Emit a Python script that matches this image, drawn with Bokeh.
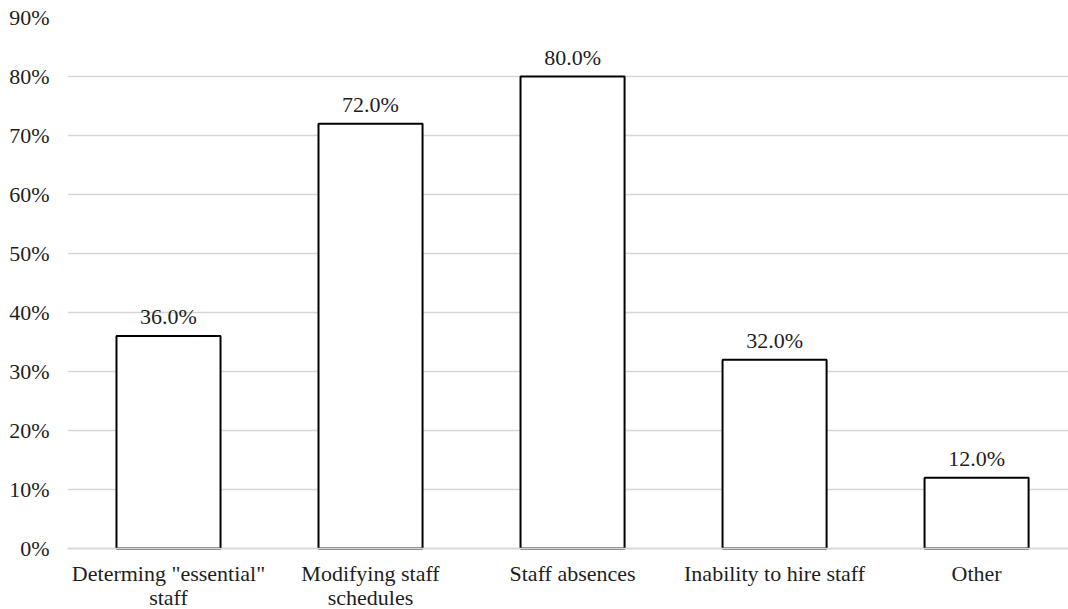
from bokeh.plotting import figure
from bokeh.models import Range1d, FixedTicker, PrintfTickFormatter, ColumnDataSource, Span
from bokeh.core.properties import value
from bokeh.embed import file_html
from bokeh.resources import INLINE

categories = ['Determing "essential"\nstaff', "Modifying staff\nschedules", "Staff absences",
              "Inability to hire staff", "Other"]
shares = [36.0, 72.0, 80.0, 32.0, 12.0]
y_ticks = [0, 10, 20, 30, 40, 50, 60, 70, 80, 90]

FONT = "Times New Roman"
SIZE = "22px"
INK = "#1e1e1e"
GRID = "#d6d6d6"

HEIGHT = 609
TOP_PAD = 17
LABEL_BAND = 61          # room below the zero line for the category names
Y_MAX = 90
plot_px = HEIGHT - TOP_PAD - LABEL_BAND
y_min = -LABEL_BAND * Y_MAX / plot_px

xs = list(range(len(categories)))
src = ColumnDataSource(dict(x=xs, top=shares, base=[0] * len(xs), name=categories,
                            label=[f"{v:.1f}%" for v in shares]))

p = figure(width=1068, height=HEIGHT, output_backend="svg", toolbar_location=None,
           x_range=Range1d(-0.5, 4.455), y_range=Range1d(y_min, Y_MAX),
           min_border_left=67, min_border_right=0, min_border_top=TOP_PAD, min_border_bottom=0)
p.outline_line_color = None
p.background_fill_color = "white"
p.border_fill_color = "white"

p.vbar(x="x", top="top", bottom="base", width=0.515, source=src,
       fill_color="white", line_color="black", line_width=2)

# the zero gridline sits over the bar bases
p.add_layout(Span(location=0, dimension="width", line_color=GRID, line_width=1.5, level="overlay"))

# value labels above each bar
p.text(x="x", y="top", text="label", source=src, text_align="center", text_baseline="bottom",
       y_offset=-7, text_font=value(FONT), text_font_size=SIZE, text_color=INK)

# category names under the zero line, two-line names set tightly
p.text(x="x", y="base", text="name", source=src, text_align="center", text_baseline="top",
       y_offset=12, text_font=value(FONT), text_font_size=SIZE, text_color=INK,
       text_line_height=0.97)

p.xgrid.visible = False
p.xaxis.visible = False
p.ygrid.ticker = FixedTicker(ticks=y_ticks)
p.ygrid.grid_line_color = GRID
p.ygrid.grid_line_width = 1.5

p.yaxis.ticker = FixedTicker(ticks=y_ticks)
p.yaxis.formatter = PrintfTickFormatter(format="%d%%")
p.yaxis.axis_line_color = None
p.yaxis.major_tick_line_color = None
p.yaxis.minor_tick_line_color = None
p.yaxis.major_tick_out = 0
p.yaxis.major_tick_in = 0
p.yaxis.major_label_text_font = FONT
p.yaxis.major_label_text_font_size = SIZE
p.yaxis.major_label_text_color = INK
p.yaxis.major_label_standoff = 18

open("out.html", "w").write(file_html(p, INLINE))
